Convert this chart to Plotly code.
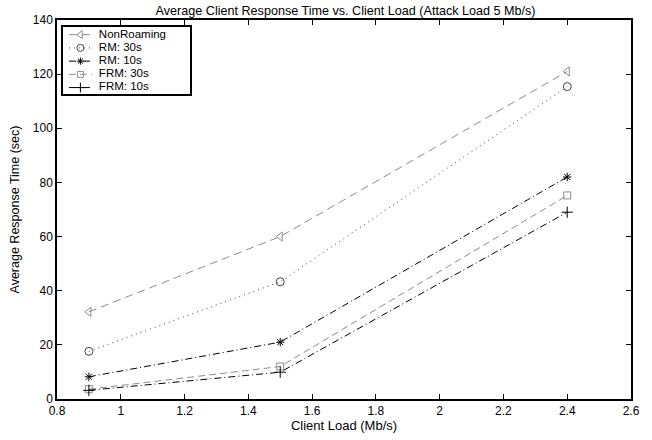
import plotly.graph_objects as go

client_load = [0.9, 1.5, 2.4]
series_names = ["NonRoaming", "RM: 30s", "RM: 10s", "FRM: 30s", "FRM: 10s"]
nonroaming = [32.2, 60.0, 121.0]
rm_30s = [17.6, 43.3, 115.4]
rm_10s = [8.2, 21.0, 82.0]
frm_30s = [3.6, 12.0, 75.2]
frm_10s = [3.2, 9.9, 69.0]
x_ticks = [0.8, 1.0, 1.2, 1.4, 1.6, 1.8, 2.0, 2.2, 2.4, 2.6]
x_tick_labels = ["0.8", "1", "1.2", "1.4", "1.6", "1.8", "2", "2.2", "2.4", "2.6"]
y_ticks = [0, 20, 40, 60, 80, 100, 120, 140]

values = [nonroaming, rm_30s, rm_10s, frm_30s, frm_10s]
styles = [
    dict(color="#8c8c8c", dash="8px,5px", symbol="triangle-left-open", size=8),
    dict(color="#444444", dash="1px,4px", symbol="circle-open", size=8),
    dict(color="#000000", dash="7px,3px,1px,3px", symbol="asterisk-open", size=7),
    dict(color="#8c8c8c", dash="7px,4px", symbol="square-open", size=7),
    dict(color="#000000", dash="7px,3px,1px,3px", symbol="cross-thin-open", size=8),
]

fig = go.Figure()
for name, vals, st in zip(series_names, values, styles):
    fig.add_trace(go.Scatter(
        x=client_load, y=vals, name=name, mode="lines+markers", showlegend=False,
        line=dict(color=st["color"], dash=st["dash"], width=1),
        marker=dict(symbol=st["symbol"], size=st["size"], color=st["color"],
                    line=dict(color=st["color"], width=1)),
    ))

# hand-made legend box (in its own little pixel-scaled axes)
leg_rows = [8, 21.5, 35, 48.5, 62]
for name, row, st in zip(series_names, leg_rows, styles):
    fig.add_trace(go.Scatter(
        x=[6, 29], y=[row, row], mode="lines", xaxis="x2", yaxis="y2",
        showlegend=False, hoverinfo="skip",
        line=dict(color=st["color"], dash=st["dash"], width=1)))
    fig.add_trace(go.Scatter(
        x=[17.5], y=[row], mode="markers", xaxis="x2", yaxis="y2",
        showlegend=False, hoverinfo="skip",
        marker=dict(symbol=st["symbol"], size=st["size"] - 1, color=st["color"],
                    line=dict(color=st["color"], width=1))))
fig.add_trace(go.Scatter(
    x=[36] * len(series_names), y=leg_rows, text=series_names, mode="text",
    textposition="middle right", xaxis="x2", yaxis="y2", showlegend=False,
    hoverinfo="skip", textfont=dict(size=11.5, color="black")))

axis_common = dict(
    showline=True, linecolor="black", linewidth=1.5, mirror="ticks",
    ticks="inside", ticklen=5, tickcolor="black", showgrid=False, zeroline=False,
    tickfont=dict(size=12, color="black"),
)

fig.update_layout(
    width=652, height=440,
    margin=dict(l=57, r=19, t=20, b=33),
    paper_bgcolor="white", plot_bgcolor="white",
    font=dict(family="Liberation Sans, Arial, sans-serif", color="black", size=12),
    title=dict(text="Average Client Response Time vs. Client Load (Attack Load 5 Mb/s)",
               x=0.53, xanchor="center", y=0.977, yanchor="middle",
               font=dict(size=12.6)),
    xaxis=dict(range=[0.8, 2.6], tickvals=x_ticks, ticktext=x_tick_labels,
               title=dict(text="Client Load (Mb/s)", standoff=1, font=dict(size=13)),
               **axis_common),
    yaxis=dict(range=[0, 140], tickvals=y_ticks,
               title=dict(text="Average Response Time (sec)", standoff=10, font=dict(size=12.5)),
               **axis_common),
    xaxis2=dict(domain=[6 / 576, 133 / 576], range=[0, 127], anchor="y2",
                showline=True, mirror=True, linecolor="black", linewidth=1.5,
                showticklabels=False, ticks="", showgrid=False, zeroline=False, fixedrange=True),
    yaxis2=dict(domain=[311 / 387, 380 / 387], range=[69, 0], anchor="x2",
                showline=True, mirror=True, linecolor="black", linewidth=1.5,
                showticklabels=False, ticks="", showgrid=False, zeroline=False, fixedrange=True),
    showlegend=False,
)

fig.write_html("out.html", config={"displayModeBar": False},
               post_script="document.body.style.margin='0';")
